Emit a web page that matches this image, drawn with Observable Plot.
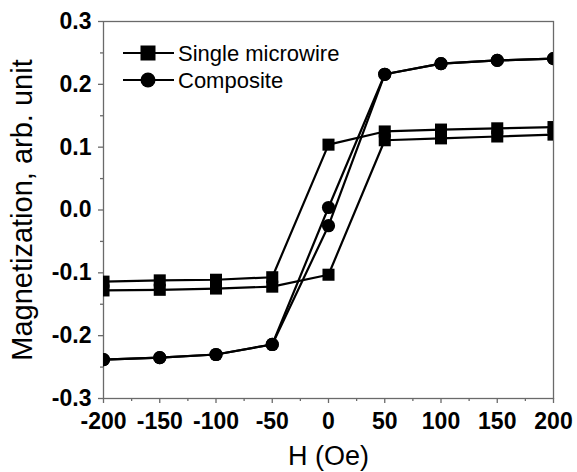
<!DOCTYPE html>
<html>
<head>
<meta charset="utf-8">
<script src="https://cdn.jsdelivr.net/npm/d3@7"></script>
<script src="https://cdn.jsdelivr.net/npm/@observablehq/plot@0.6"></script>
<style>
  html, body { margin: 0; padding: 0; background: #fff; }
  #chart { width: 577px; height: 472px; }
</style>
</head>
<body>
<div id="chart"></div>
<script>
// Field sweep, descending branch (+200 → −200 Oe) and ascending branch (−200 → +200 Oe)
const hDown = [200, 150, 100, 50, 0, -50, -100, -150, -200];
const hUp = [-200, -150, -100, -50, 0, 50, 100, 150, 200];

// Single microwire loop
const wireDown = [0.132, 0.130, 0.128, 0.125, 0.104, -0.107, -0.111, -0.112, -0.114];
const wireUp = [-0.128, -0.127, -0.125, -0.122, -0.103, 0.111, 0.114, 0.117, 0.120];

// Composite loop
const compDown = [0.241, 0.238, 0.233, 0.216, 0.004, -0.214, -0.230, -0.235, -0.238];
const compUp = [-0.238, -0.235, -0.230, -0.214, -0.025, 0.216, 0.233, 0.238, 0.241];

const seriesNames = ["Single microwire", "Composite"];

// Axis ticks
const xTicks = [-200, -150, -100, -50, 0, 50, 100, 150, 200];
const xMinor = [-175, -125, -75, -25, 25, 75, 125, 175];
const yTicks = [-0.3, -0.2, -0.1, 0.0, 0.1, 0.2, 0.3];
const yMinor = [-0.25, -0.15, -0.05, 0.05, 0.15, 0.25];

function branch(series, dir, hs, ms) {
  return hs.map((h, i) => ({ series, key: series + " " + dir, H: h, M: ms[i] }));
}

const rows = [
  ...branch(seriesNames[0], "down", hDown, wireDown),
  ...branch(seriesNames[0], "up", hUp, wireUp),
  ...branch(seriesNames[1], "down", hDown, compDown),
  ...branch(seriesNames[1], "up", hUp, compUp)
];
const wireRows = rows.filter(d => d.series === seriesNames[0]);
const compRows = rows.filter(d => d.series === seriesNames[1]);

const FONT = "'Liberation Sans', Arial, Helvetica, sans-serif";
const axisGray = "#6a6a6a";

const chart = Plot.plot({
  width: 577,
  height: 472,
  marginLeft: 103,
  marginRight: 24,
  marginTop: 21,
  marginBottom: 74,
  style: { fontFamily: FONT, background: "#fff", color: "#000", overflow: "visible" },
  x: { domain: [-200, 200], label: null },
  y: { domain: [-0.3, 0.3], label: null },
  marks: [
    Plot.frame({ stroke: axisGray, strokeWidth: 1.3 }),
    Plot.axisX({ ticks: xMinor, tickSize: 3, tickFormat: () => "", stroke: axisGray, strokeWidth: 1.3, label: null }),
    Plot.axisX({ ticks: xTicks, tickSize: 5, tickPadding: 9, tickFormat: d => String(d),
      stroke: axisGray, strokeWidth: 1.3, fill: "#000", fontSize: 23, fontWeight: "bold", label: null }),
    Plot.axisY({ ticks: yMinor, tickSize: 3, tickFormat: () => "", stroke: axisGray, strokeWidth: 1.3, label: null }),
    Plot.axisY({ ticks: yTicks, tickSize: 5, tickPadding: 7, tickFormat: d => d.toFixed(1),
      stroke: axisGray, strokeWidth: 1.3, fill: "#000", fontSize: 23, fontWeight: "bold", label: null }),
    Plot.line(rows, { x: "H", y: "M", z: "key", stroke: "#000", strokeWidth: 2.2, clip: true }),
    Plot.dot(wireRows, { x: "H", y: "M", symbol: "square", r: 6.8, fill: "#000", stroke: "none", clip: true }),
    Plot.dot(compRows, { x: "H", y: "M", symbol: "circle", r: 6.6, fill: "#000", stroke: "none", clip: true }),
    Plot.text(["H (Oe)"], { frameAnchor: "bottom", textAnchor: "middle", lineAnchor: "middle",
      dy: 58, fontSize: 27, fill: "#000" }),
    Plot.text(["Magnetization, arb. unit"], { frameAnchor: "left", textAnchor: "middle", lineAnchor: "middle",
      dx: -81, rotate: -90, fontSize: 29, fill: "#000" })
  ]
});

// Legend inside the frame, upper left
const svg = d3.select(chart);
const legend = svg.append("g").attr("font-family", FONT).attr("font-size", 22);
const legendLayout = { x0: 123, x1: 174, xm: 148, xt: 178, y: [53, 80] };
seriesNames.forEach((name, i) => {
  const y = legendLayout.y[i];
  legend.append("line")
    .attr("x1", legendLayout.x0).attr("x2", legendLayout.x1)
    .attr("y1", y).attr("y2", y)
    .attr("stroke", "#000").attr("stroke-width", 2.2);
  if (i === 0) {
    legend.append("rect")
      .attr("x", legendLayout.xm - 7.5).attr("y", y - 7.5)
      .attr("width", 15).attr("height", 15).attr("fill", "#000");
  } else {
    legend.append("circle")
      .attr("cx", legendLayout.xm).attr("cy", y).attr("r", 7.5).attr("fill", "#000");
  }
  legend.append("text")
    .attr("x", legendLayout.xt).attr("y", y).attr("dy", "0.36em")
    .attr("text-anchor", "start")
    .attr("fill", "#000").text(name);
});

document.getElementById("chart").appendChild(chart);
</script>
</body>
</html>
